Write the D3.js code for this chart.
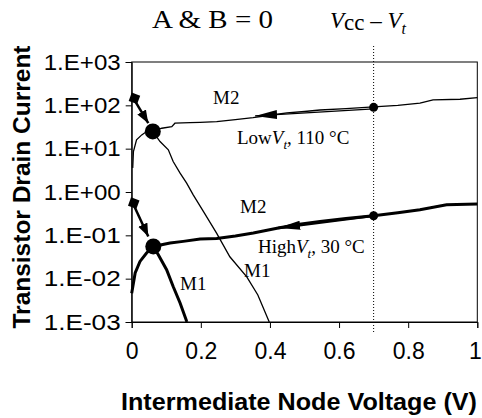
<!DOCTYPE html>
<html><head><meta charset="utf-8">
<script src="https://cdn.jsdelivr.net/npm/d3@7"></script>
<style>body{margin:0;background:#fff}svg{display:block}</style>
</head><body>
<script>
// ---- data ----
const xTicks = [0, 0.2, 0.4, 0.6, 0.8, 1];
const xTickLabels = ["0", "0.2", "0.4", "0.6", "0.8", "1"];
const yTicks = [1e3, 1e2, 1e1, 1e0, 1e-1, 1e-2, 1e-3];
const yTickLabels = ["1.E+03", "1.E+02", "1.E+01", "1.E+00", "1.E-01", "1.E-02", "1.E-03"];

// Low Vt, 110 °C (thin)
const lowM2 = [[0.003,3.6],[0.005,8.6],[0.014,16],[0.029,20.8],[0.043,24.8],[0.061,25],[0.087,29.6],[0.116,32.3],[0.125,38.7],[0.169,40],[0.198,40.5],[0.246,42],[0.30,47],[0.351,52],[0.40,59],[0.449,67],[0.50,72],[0.545,78],[0.62,84],[0.70,92],[0.77,100],[0.834,112],[0.872,133],[0.95,138],[1.0,150]];
const lowM1 = [[0.061,25],[0.082,14.6],[0.106,9.4],[0.12,5.05],[0.14,2.72],[0.159,1.6],[0.178,0.86],[0.21,0.33],[0.246,0.111],[0.284,0.032],[0.333,0.011],[0.365,0.0042],[0.398,0.001]];
// High Vt, 30 °C (thick)
const highM2 = [[0.0,0.0046],[0.01,0.0135],[0.024,0.025],[0.043,0.039],[0.0625,0.0555],[0.111,0.0665],[0.149,0.0725],[0.198,0.082],[0.246,0.085],[0.30,0.097],[0.352,0.113],[0.424,0.147],[0.48,0.178],[0.545,0.209],[0.62,0.245],[0.70,0.283],[0.77,0.33],[0.834,0.389],[0.911,0.507],[1.0,0.53]];
const highM1 = [[0.0625,0.0555],[0.077,0.0357],[0.101,0.0161],[0.12,0.0066],[0.14,0.00275],[0.159,0.00104],[0.16,0.001]];

// operating points and arrows
const bigDots = [[0.061,25],[0.0625,0.0555]];
const vccDots = [[0.7,90],[0.7,0.283]];
const startSquares = [[0.005,145],[0.003,0.555]];
const startArrowTips = [[0.048,38.7],[0.048,0.094]];
const m2ArrowTips = [[0.357,57],[0.424,0.147]];
const vccX = 0.7;

// ---- drawing ----
const W = 482, H = 418;
const svg = d3.select("body").append("svg").attr("width", W).attr("height", H);
const x = d3.scaleLinear().domain([0, 1]).range([131.7, 477.3]);
const y = d3.scaleLog().domain([1e-3, 1e3]).range([322, 62]);
const sans = "'Liberation Sans', Arial, sans-serif";
const serif = "'Liberation Serif', 'Times New Roman', serif";

const defs = svg.append("defs");
defs.append("marker").attr("id","bigHead").attr("markerUnits","userSpaceOnUse")
  .attr("viewBox","0 -5 22 10").attr("refX",22).attr("refY",0)
  .attr("markerWidth",22).attr("markerHeight",10).attr("orient","auto")
  .append("path").attr("d","M22,0L0,-4.5L0,4.5Z").attr("fill","#000");
defs.append("marker").attr("id","smallHead").attr("markerUnits","userSpaceOnUse")
  .attr("viewBox","0 -6 13 12").attr("refX",13).attr("refY",0)
  .attr("markerWidth",13).attr("markerHeight",12).attr("orient","auto")
  .append("path").attr("d","M13,0L0,-5L0,5Z").attr("fill","#000");

// frame
svg.append("rect").attr("x", x(0)).attr("y", y(1e3))
  .attr("width", x(1) - x(0)).attr("height", y(1e-3) - y(1e3))
  .attr("fill","none").attr("stroke","#000").attr("stroke-width",1);

// axes
const yAxis = d3.axisLeft(y).tickValues(yTicks).tickSize(6)
  .tickFormat((d,i) => yTickLabels[i]);
const gy = svg.append("g").attr("transform", `translate(${x(0)},0)`).call(yAxis);
gy.selectAll("text").attr("font-family", sans).attr("font-size", 22).attr("fill","#000")
  .attr("x", -11).attr("textLength", 77).attr("lengthAdjust","spacingAndGlyphs");
const xAxis = d3.axisBottom(x).tickValues(xTicks).tickSize(6)
  .tickFormat((d,i) => xTickLabels[i]);
const gx = svg.append("g").attr("transform", `translate(0,${y(1e-3)})`).call(xAxis);
gx.selectAll("text").attr("font-family", sans).attr("font-size", 23).attr("fill","#000").attr("y", 21).attr("dy","0.71em");
gx.selectAll(".tick").filter(d => d === 1).select("text").attr("text-anchor","end").attr("x", 4);
[gx, gy].forEach(g => { g.select(".domain").attr("stroke","#000"); g.selectAll("line").attr("stroke","#000"); });

// dotted Vcc - Vt line
svg.append("line").attr("x1", x(vccX)).attr("x2", x(vccX)).attr("y1", 46).attr("y2", 334)
  .attr("stroke","#000").attr("stroke-width",1).attr("stroke-dasharray","1,2");

const line = d3.line().x(d => x(d[0])).y(d => y(d[1]));
svg.append("path").datum(lowM2).attr("d", line).attr("fill","none").attr("stroke","#000").attr("stroke-width",1.3);
svg.append("path").datum(lowM1).attr("d", line).attr("fill","none").attr("stroke","#000").attr("stroke-width",1.3);
svg.append("path").datum(highM2).attr("d", line).attr("fill","none").attr("stroke","#000").attr("stroke-width",3);
svg.append("path").datum(highM1).attr("d", line).attr("fill","none").attr("stroke","#000").attr("stroke-width",3);

// M2 arrows from Vcc-Vt dots
m2ArrowTips.forEach((t, i) => {
  const s = vccDots[i];
  svg.append("line").attr("x1", x(s[0])).attr("y1", y(s[1]) + (i === 0 ? 1.5 : 0))
    .attr("x2", x(t[0])).attr("y2", y(t[1]))
    .attr("stroke","#000").attr("stroke-width", i === 0 ? 1.3 : 2.5).attr("marker-end","url(#bigHead)");
});

// start squares and small arrows
startSquares.forEach((s, i) => {
  const t = startArrowTips[i];
  svg.append("line").attr("x1", x(s[0])).attr("y1", y(s[1])).attr("x2", x(t[0])).attr("y2", y(t[1]))
    .attr("stroke","#000").attr("stroke-width",2.5).attr("marker-end","url(#smallHead)");
  svg.append("rect").attr("x",-4.5).attr("y",-4.5).attr("width",9).attr("height",9).attr("fill","#000")
    .attr("transform", `translate(${x(s[0])+1},${y(s[1])}) rotate(20)`);
});

// dots
svg.selectAll("circle.big").data(bigDots).join("circle").attr("class","big")
  .attr("cx", d => x(d[0])).attr("cy", d => y(d[1])).attr("r", 8).attr("fill","#000");
svg.selectAll("circle.vcc").data(vccDots).join("circle").attr("class","vcc")
  .attr("cx", d => x(d[0])).attr("cy", d => y(d[1])).attr("r", 4.5).attr("fill","#000");

// curve labels
function label(px, py, txt) {
  svg.append("text").attr("x", px).attr("y", py).attr("font-family", serif).attr("font-size", 19).attr("fill","#000").text(txt);
}
label(213, 104, "M2");
label(240, 213, "M2");
label(244, 277, "M1");
label(180, 290, "M1");
function vtLabel(px, py, pre, post) {
  const t = svg.append("text").attr("x", px).attr("y", py).attr("font-family", serif).attr("font-size", 19).attr("fill","#000");
  t.append("tspan").text(pre);
  t.append("tspan").attr("font-style","italic").text("V");
  t.append("tspan").attr("font-style","italic").attr("font-size",13).attr("dy",5).text("t");
  t.append("tspan").attr("dy",-5).text(post);
}
vtLabel(237, 143.5, "Low", ", 110 °C");
vtLabel(258, 253, "High", ", 30 °C");

// titles
svg.append("text").attr("x", 152).attr("y", 28).attr("font-family", serif).attr("font-size", 25)
  .attr("textLength", 121).attr("lengthAdjust","spacingAndGlyphs").attr("fill","#000").text("A & B = 0");
const vt = svg.append("text").attr("x", 330).attr("y", 28).attr("font-family", serif).attr("font-size", 23).attr("fill","#000");
vt.append("tspan").attr("font-style","italic").text("V");
vt.append("tspan").attr("dy",2).text("cc");
vt.append("tspan").attr("dy",-2).text(" \u2013 ");
vt.append("tspan").attr("font-style","italic").text("V");
vt.append("tspan").attr("font-style","italic").attr("font-size",16).attr("dy",6).text("t");

svg.append("text").attr("transform","translate(30,187) rotate(-90)").attr("text-anchor","middle")
  .attr("font-family", sans).attr("font-weight","bold").attr("font-size", 24)
  .attr("textLength", 283).attr("lengthAdjust","spacingAndGlyphs").attr("fill","#000").text("Transistor Drain Current");
svg.append("text").attr("x", 299).attr("y", 410).attr("text-anchor","middle")
  .attr("font-family", sans).attr("font-weight","bold").attr("font-size", 24)
  .attr("textLength", 356).attr("lengthAdjust","spacingAndGlyphs").attr("fill","#000").text("Intermediate Node Voltage (V)");
</script>
</body></html>
